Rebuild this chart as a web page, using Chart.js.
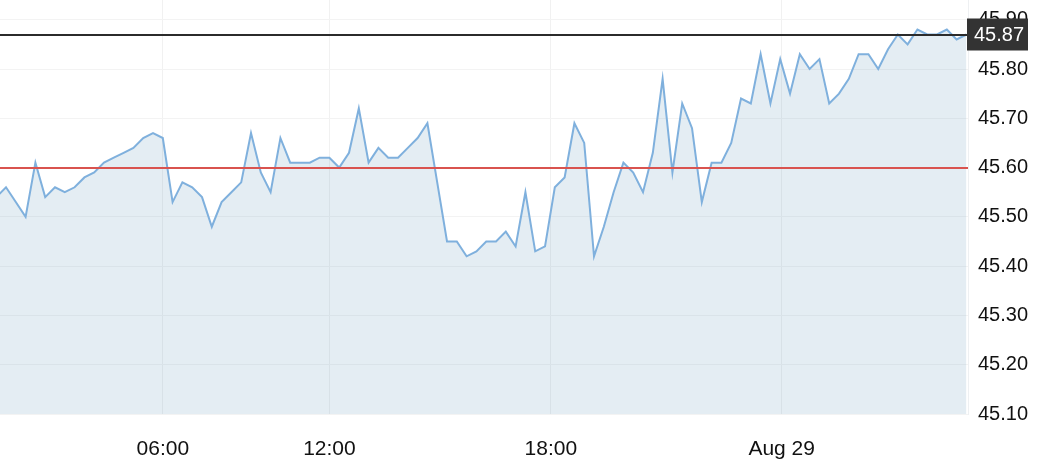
<!DOCTYPE html>
<html>
<head>
<meta charset="utf-8">
<script src="https://cdn.jsdelivr.net/npm/chart.js@4.4.1/dist/chart.umd.min.js"></script>
<style>
  html, body { margin: 0; padding: 0; background: #fff; }
  #wrap { width: 1046px; height: 476px; }
</style>
</head>
<body>
<div id="wrap"><canvas id="priceChart" width="1046" height="476"></canvas></div>
<script>
// price series, one value per interval (evenly spaced)
const prices = [
  45.54, 45.56, 45.53, 45.50, 45.61, 45.54, 45.56, 45.55, 45.56, 45.58,
  45.59, 45.61, 45.62, 45.63, 45.64, 45.66, 45.67, 45.66, 45.53, 45.57,
  45.56, 45.54, 45.48, 45.53, 45.55, 45.57, 45.67, 45.59, 45.55, 45.66,
  45.61, 45.61, 45.61, 45.62, 45.62, 45.60, 45.63, 45.72, 45.61, 45.64,
  45.62, 45.62, 45.64, 45.66, 45.69, 45.57, 45.45, 45.45, 45.42, 45.43,
  45.45, 45.45, 45.47, 45.44, 45.55, 45.43, 45.44, 45.56, 45.58, 45.69,
  45.65, 45.42, 45.48, 45.55, 45.61, 45.59, 45.55, 45.63, 45.78, 45.59,
  45.73, 45.68, 45.53, 45.61, 45.61, 45.65, 45.74, 45.73, 45.83, 45.73,
  45.82, 45.75, 45.83, 45.80, 45.82, 45.73, 45.75, 45.78, 45.83, 45.83,
  45.80, 45.84, 45.87, 45.85, 45.88, 45.87, 45.87, 45.88, 45.86, 45.87
];

// time axis labels and where they fall (in data-index units)
const tickLabels = ['06:00', '12:00', '18:00', 'Aug 29'];
const tickPositions = [17, 34, 56.6, 80.15];

const yTickValues = [45.10, 45.20, 45.30, 45.40, 45.50, 45.60, 45.70, 45.80, 45.90];
const lastPrice = 45.87;
const refPrice = 45.60;

const lineBlue = '#7fb0dd';
const fontFamily = "'Liberation Sans', Arial, Helvetica, sans-serif";

// horizontal reference lines + last price tag
const priceLines = {
  id: 'priceLines',
  afterDatasetsDraw(chart) {
    const { ctx, chartArea, scales } = chart;
    const y = scales.y;

    const hline = (val, color) => {
      const py = Math.round(y.getPixelForValue(val));
      ctx.save();
      ctx.strokeStyle = color;
      ctx.lineWidth = 2;
      ctx.beginPath();
      ctx.moveTo(chartArea.left, py);
      ctx.lineTo(chartArea.right, py);
      ctx.stroke();
      ctx.restore();
    };
    hline(refPrice, '#d9534f');
    hline(lastPrice, '#2b2b2b');

    // dark tag on the axis
    const py = y.getPixelForValue(lastPrice);
    ctx.save();
    ctx.fillStyle = '#333333';
    ctx.fillRect(chartArea.right - 1, py - 16, 61, 32);
    ctx.fillStyle = '#ffffff';
    ctx.font = '20px ' + fontFamily;
    ctx.textAlign = 'left';
    ctx.textBaseline = 'middle';
    ctx.fillText(lastPrice.toFixed(2), chartArea.right + 6, py + 1);
    ctx.restore();
  }
};

const noPad = (scale) => {
  scale.paddingTop = 0;
  scale.paddingBottom = 0;
  scale.paddingLeft = 0;
  scale.paddingRight = 0;
};

const ctx = document.getElementById('priceChart').getContext('2d');

new Chart(ctx, {
  type: 'line',
  data: {
    datasets: [{
      data: prices.map((v, i) => ({ x: i, y: v })),
      borderColor: lineBlue,
      borderWidth: 2,
      backgroundColor: 'rgba(120, 165, 195, 0.2)',
      fill: 'start',
      pointRadius: 0,
      tension: 0
    }]
  },
  options: {
    responsive: false,
    animation: false,
    events: [],
    layout: { padding: 0, autoPadding: false },
    plugins: {
      legend: { display: false },
      tooltip: { enabled: false }
    },
    scales: {
      x: {
        type: 'linear',
        min: 0.388,
        max: 99.16,
        afterBuildTicks: (scale) => {
          scale.ticks = tickPositions.map(v => ({ value: v }));
        },
        afterFit: (scale) => { scale.height = 62; noPad(scale); },
        grid: { color: '#f1f1f1', drawTicks: false },
        border: { display: false },
        ticks: {
          padding: 23,
          color: '#111',
          font: { family: fontFamily, size: 21 },
          maxRotation: 0,
          autoSkip: false,
          callback: (val) => {
            const k = tickPositions.indexOf(val);
            return k >= 0 ? tickLabels[k] : '';
          }
        }
      },
      y: {
        position: 'right',
        min: 45.10,
        max: 45.94,
        afterBuildTicks: (scale) => {
          scale.ticks = yTickValues.map(v => ({ value: v }));
        },
        afterFit: (scale) => { scale.width = 78; noPad(scale); },
        grid: { color: '#f3f3f3', drawTicks: false },
        border: { display: true, color: '#eef0f2' },
        ticks: {
          padding: 10,
          color: '#111',
          font: { family: fontFamily, size: 20 },
          callback: (val) => Number(val).toFixed(2)
        }
      }
    }
  },
  plugins: [priceLines]
});
</script>
</body>
</html>
